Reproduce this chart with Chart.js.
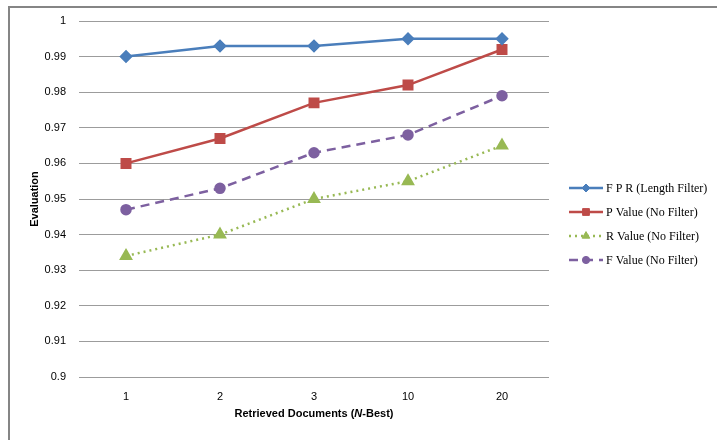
<!DOCTYPE html>
<html>
<head>
<meta charset="utf-8">
<script src="https://cdn.jsdelivr.net/npm/chart.js@4/dist/chart.umd.min.js"></script>
<style>
  html, body { margin: 0; padding: 0; background: #fff; }
  #wrap { width: 717px; height: 440px; position: relative; }
</style>
</head>
<body>
<div id="wrap"><canvas id="chart" width="717" height="440"></canvas></div>
<script>
// chart data
const categories = ["1", "2", "3", "10", "20"];
const fprLength = [0.990, 0.993, 0.993, 0.995, 0.995];
const pNoFilter = [0.960, 0.967, 0.977, 0.982, 0.992];
const rNoFilter = [0.934, 0.940, 0.950, 0.955, 0.965];
const fNoFilter = [0.947, 0.953, 0.963, 0.968, 0.979];
const seriesNames = ["F P R (Length Filter)", "P Value (No Filter)", "R Value (No Filter)", "F Value (No Filter)"];

const tickFont = { family: "'Liberation Sans', Arial, sans-serif", size: 11 };

// frame around the whole figure
const framePlugin = {
    id: "frame",
    beforeDraw(chart) {
        const ctx = chart.ctx;
        ctx.save();
        ctx.fillStyle = "#fff";
        ctx.fillRect(0, 0, chart.width, chart.height);
        ctx.strokeStyle = "#858585";
        ctx.lineWidth = 2;
        ctx.strokeRect(9, 7, chart.width + 10, chart.height + 10);
        ctx.restore();
    }
};

// x title with italic N, and legend with line + marker samples
const extrasPlugin = {
    id: "extras",
    afterDraw(chart) {
        const ctx = chart.ctx;
        const area = chart.chartArea;
        ctx.save();
        // x axis title
        const parts = [
            ["bold 11px 'Liberation Sans', Arial, sans-serif", "Retrieved Documents ("],
            ["italic bold 11px 'Liberation Sans', Arial, sans-serif", "N"],
            ["bold 11px 'Liberation Sans', Arial, sans-serif", "-Best)"]
        ];
        let total = 0;
        parts.forEach(p => { ctx.font = p[0]; total += ctx.measureText(p[1]).width; });
        let x = (area.left + area.right) / 2 - total / 2;
        ctx.fillStyle = "#000";
        ctx.textBaseline = "middle";
        parts.forEach(p => {
            ctx.font = p[0];
            ctx.fillText(p[1], x, 414);
            x += ctx.measureText(p[1]).width;
        });

        // legend
        const x0 = 569, x1 = 603;
        chart.data.datasets.forEach((ds, i) => {
            const y = 188 + i * 24;
            ctx.strokeStyle = ds.borderColor;
            ctx.lineWidth = ds.borderWidth;
            ctx.setLineDash(ds.borderDash || []);
            ctx.beginPath();
            ctx.moveTo(x0, y);
            ctx.lineTo(x1, y);
            ctx.stroke();
            ctx.setLineDash([]);
            ctx.fillStyle = ds.backgroundColor;
            ctx.strokeStyle = ds.borderColor;
            ctx.lineWidth = 1;
            Chart.helpers.drawPoint(ctx, {
                pointStyle: ds.pointStyle,
                radius: ds.pointRadius * 0.8,
                borderWidth: 1
            }, (x0 + x1) / 2, y);
            ctx.fillStyle = "#000";
            ctx.font = "12px 'Liberation Serif', 'Times New Roman', serif";
            ctx.textBaseline = "middle";
            ctx.fillText(ds.label, x1 + 3, y + 1);
        });
        ctx.restore();
    }
};

new Chart(document.getElementById("chart"), {
    type: "line",
    data: {
        labels: categories,
        datasets: [
            {
                label: seriesNames[0], data: fprLength,
                borderColor: "#4A7EBB", backgroundColor: "#4A7EBB",
                borderWidth: 2.5, pointStyle: "rectRot", pointRadius: 5
            },
            {
                label: seriesNames[1], data: pNoFilter,
                borderColor: "#BE4B48", backgroundColor: "#BE4B48",
                borderWidth: 2.5, pointStyle: "rect", pointRadius: 6
            },
            {
                label: seriesNames[2], data: rNoFilter,
                borderColor: "#98B954", backgroundColor: "#98B954",
                borderWidth: 2.5, borderDash: [2, 4], pointStyle: "triangle", pointRadius: 5.5
            },
            {
                label: seriesNames[3], data: fNoFilter,
                borderColor: "#7D60A0", backgroundColor: "#7D60A0",
                borderWidth: 2.5, borderDash: [9, 6], pointStyle: "circle", pointRadius: 4.5
            }
        ]
    },
    options: {
        responsive: false,
        animation: false,
        layout: { padding: { top: 21, right: 168, bottom: 0, left: 28 } },
        elements: {
            line: { tension: 0 },
            point: { borderWidth: 1, hoverRadius: 6 }
        },
        plugins: {
            legend: { display: false },
            tooltip: { enabled: false }
        },
        scales: {
            x: {
                offset: true,
                grid: { display: false, drawTicks: false },
                border: { display: false },
                ticks: { font: tickFont, color: "#000", padding: 13 },
                afterFit(scale) { scale.height = 63; }
            },
            y: {
                min: 0.9,
                max: 1,
                grid: { color: "#9c9c9c", lineWidth: 1, drawTicks: false },
                border: { display: false },
                ticks: {
                    stepSize: 0.01,
                    font: tickFont,
                    color: "#000",
                    padding: 13,
                    callback: v => String(parseFloat(v.toFixed(2)))
                },
                title: {
                    display: true,
                    text: "Evaluation",
                    font: { family: "'Liberation Sans', Arial, sans-serif", size: 11, weight: "bold" },
                    color: "#000",
                    padding: 0
                },
                afterFit(scale) { scale.width = 51; }
            }
        }
    },
    plugins: [framePlugin, extrasPlugin]
});
</script>
</body>
</html>
